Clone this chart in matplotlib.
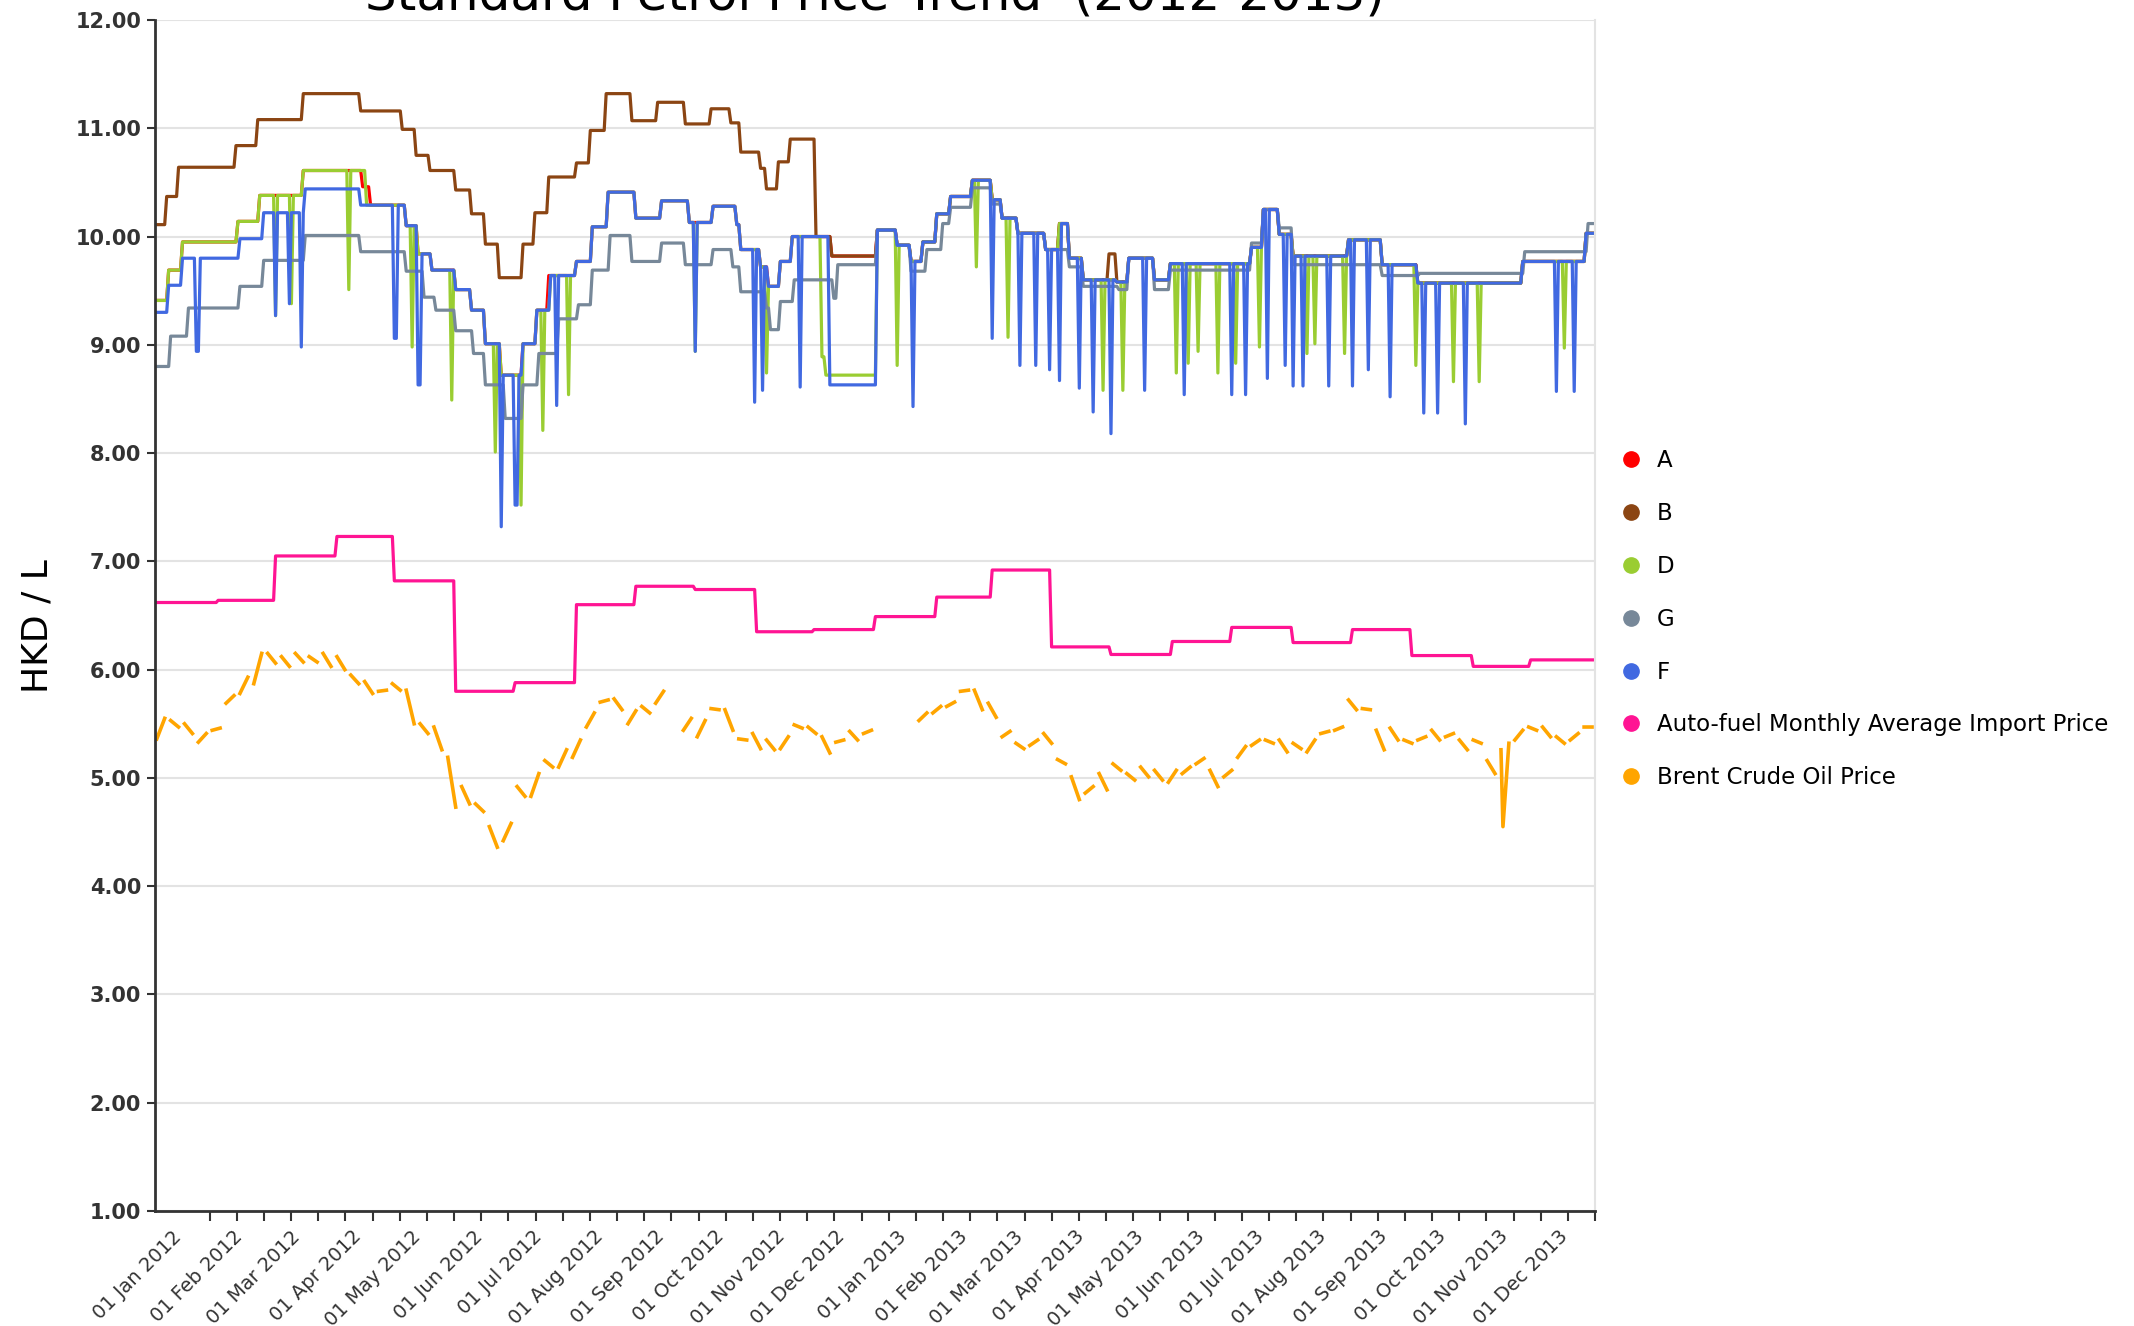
import numpy as np
import pandas as pd
import matplotlib
matplotlib.use('Agg')
import matplotlib.pyplot as plt
import matplotlib.dates as mdates
from matplotlib.ticker import FixedLocator
from matplotlib.lines import Line2D

# all days are counted from 01 Jan 2012
start = pd.Timestamp('2012-01-01')

# A: price change days / values
a_day = [-13, -7, 0, 28, 39, 61, 91, 95, 113, 119, 126, 138, 146, 153, 161, 172, 179, 185, 199, 207, 215, 229,
         242, 256, 268, 280, 282, 292, 296, 302, 308, 328, 351, 361, 368, 374, 381, 388, 399, 409, 414, 422,
         436, 443, 448, 455, 472, 478, 491, 499, 540, 546, 554, 561, 589, 606, 624, 677, 709]
a_val = [9.41, 9.69, 9.95, 10.14, 10.38, 10.61, 10.46, 10.29, 10.10, 9.84, 9.69, 9.51, 9.32, 9.01, 8.72, 9.01,
         9.32, 9.64, 9.77, 10.09, 10.41, 10.17, 10.33, 10.13, 10.28, 10.11, 9.88, 9.72, 9.54, 9.77, 10.00, 9.82,
         10.06, 9.92, 9.77, 9.95, 10.21, 10.37, 10.52, 10.34, 10.17, 10.03, 9.88, 10.12, 9.80, 9.60, 9.58, 9.80,
         9.60, 9.75, 9.90, 10.25, 10.02, 9.82, 9.97, 9.74, 9.57, 9.77, 10.03]

# B
b_day = [-13, -8, -2, 27, 38, 61, 90, 111, 118, 125, 138, 146, 153, 160, 172, 178, 185, 199, 206, 214, 227,
         240, 254, 267, 277, 282, 292, 295, 301, 307, 320, 328, 351, 361, 368, 374, 381, 388, 399, 409, 414,
         422, 436, 443, 448, 455, 468, 472, 478, 491, 499, 540, 546, 554, 561, 589, 606, 624, 677, 709]
b_val = [10.11, 10.37, 10.64, 10.84, 11.08, 11.32, 11.16, 10.99, 10.75, 10.61, 10.43, 10.21, 9.93, 9.62, 9.93,
         10.22, 10.55, 10.68, 10.98, 11.32, 11.07, 11.24, 11.04, 11.18, 11.05, 10.78, 10.63, 10.44, 10.69, 10.90,
         10.00, 9.82, 10.06, 9.92, 9.77, 9.95, 10.21, 10.37, 10.52, 10.34, 10.17, 10.03, 9.88, 10.12, 9.80, 9.60,
         9.84, 9.58, 9.80, 9.60, 9.75, 9.90, 10.25, 10.02, 9.82, 9.97, 9.74, 9.57, 9.77, 10.03]

# D
d_day = [-13, -7, 0, 28, 39, 61, 93, 113, 119, 126, 138, 146, 153, 161, 172, 179, 186, 199, 207, 215, 229,
         242, 256, 268, 280, 282, 292, 296, 302, 308, 323, 325, 351, 361, 368, 374, 381, 388, 399, 409, 414, 422,
         436, 443, 448, 455, 472, 478, 491, 499, 540, 546, 554, 561, 589, 606, 624, 677, 709]
d_val = [9.41, 9.69, 9.95, 10.14, 10.38, 10.61, 10.29, 10.10, 9.84, 9.69, 9.51, 9.32, 9.01, 8.72, 9.01, 9.32,
         9.64, 9.77, 10.09, 10.41, 10.17, 10.33, 10.13, 10.28, 10.11, 9.88, 9.72, 9.54, 9.77, 10.00, 8.89, 8.72,
         10.06, 9.92, 9.77, 9.95, 10.21, 10.37, 10.52, 10.34, 10.17, 10.03, 9.88, 10.12, 9.80, 9.60, 9.58, 9.80,
         9.60, 9.75, 9.90, 10.25, 10.02, 9.82, 9.97, 9.74, 9.57, 9.77, 10.03]
d_dip_day = [47, 55, 84, 116, 136, 158, 171, 182, 195, 259, 295, 361, 401, 417, 465, 475, 502, 508, 513, 523,
             532, 544, 568, 572, 587, 623, 642, 655, 698]
d_dip_val = [9.27, 9.38, 9.51, 8.98, 8.49, 8.01, 7.52, 8.21, 8.54, 8.94, 8.74, 8.81, 9.72, 9.07, 8.58, 8.58,
             8.74, 8.83, 8.94, 8.74, 8.83, 8.98, 8.92, 9.01, 8.92, 8.81, 8.66, 8.66, 8.97]

# G
g_day = [-13, -6, 3, 29, 41, 62, 90, 113, 122, 128, 138, 147, 153, 163, 172, 180, 190, 200, 207, 216, 227,
         242, 254, 268, 278, 282, 295, 297, 302, 309, 329, 331, 351, 361, 368, 376, 384, 388, 399, 409, 414, 422,
         436, 448, 455, 473, 478, 491, 499, 540, 546, 554, 561, 606, 625, 678, 710]
g_val = [8.80, 9.08, 9.34, 9.54, 9.78, 10.01, 9.86, 9.68, 9.44, 9.32, 9.13, 8.92, 8.63, 8.32, 8.63, 8.92, 9.24,
         9.37, 9.69, 10.01, 9.77, 9.94, 9.74, 9.88, 9.72, 9.49, 9.34, 9.14, 9.40, 9.60, 9.43, 9.74, 10.06, 9.92,
         9.68, 9.88, 10.12, 10.27, 10.45, 10.30, 10.17, 10.03, 9.88, 9.72, 9.54, 9.51, 9.80, 9.51, 9.69, 9.94,
         10.25, 10.08, 9.74, 9.64, 9.66, 9.86, 10.12]

# F
f_day = [-13, -7, 0, 29, 41, 62, 90, 113, 119, 126, 138, 146, 153, 161, 172, 179, 186, 199, 207, 215, 229,
         242, 256, 268, 280, 282, 292, 296, 302, 308, 327, 351, 361, 368, 374, 381, 388, 399, 409, 414, 422,
         436, 443, 448, 455, 472, 478, 491, 499, 540, 546, 554, 561, 589, 606, 624, 677, 709]
f_val = [9.30, 9.55, 9.80, 9.98, 10.22, 10.44, 10.29, 10.10, 9.84, 9.69, 9.51, 9.32, 9.01, 8.72, 9.01, 9.32,
         9.64, 9.77, 10.09, 10.41, 10.17, 10.33, 10.13, 10.28, 10.11, 9.88, 9.72, 9.54, 9.77, 10.00, 8.63, 10.06,
         9.92, 9.77, 9.95, 10.21, 10.37, 10.52, 10.34, 10.17, 10.03, 9.88, 10.12, 9.80, 9.60, 9.58, 9.80, 9.60,
         9.75, 9.90, 10.25, 10.02, 9.82, 9.97, 9.74, 9.57, 9.77, 10.03]
f_dip_day = [7, 8, 47, 54, 60, 107, 108, 119, 120, 161, 168, 169, 189, 259, 289, 293, 312, 369, 409, 423, 431,
             438, 443, 453, 460, 469, 486, 506, 530, 537, 548, 557, 561, 566, 579, 591, 599, 610, 627, 634, 648,
             694, 703]
f_dip_val = [8.94, 8.94, 9.27, 9.38, 8.98, 9.06, 9.06, 8.63, 8.63, 7.32, 7.52, 7.52, 8.44, 8.94, 8.47, 8.58,
             8.61, 8.43, 9.06, 8.81, 8.81, 8.77, 8.67, 8.60, 8.38, 8.18, 8.58, 8.54, 8.54, 8.54, 8.69, 8.81, 8.62,
             8.62, 8.62, 8.62, 8.77, 8.52, 8.37, 8.37, 8.27, 8.57, 8.57]

# Auto-fuel monthly average import price
imp_day = [-13, 18, 47, 78, 107, 138, 168, 199, 229, 259, 290, 319, 350, 381, 409, 439, 469, 500, 530, 561,
           591, 621, 652, 681]
imp_val = [6.62, 6.64, 7.05, 7.23, 6.82, 5.80, 5.88, 6.60, 6.77, 6.74, 6.35, 6.37, 6.49, 6.67, 6.92, 6.21,
           6.14, 6.26, 6.39, 6.25, 6.37, 6.13, 6.03, 6.09]

# Brent crude, one row per week starting Mon 19 Dec 2011: Monday and Friday values
brent_mon = [5.36, 5.53, 5.50, 5.33, 5.44, 5.69, 5.78, 5.87, 6.15, 6.12, 6.15, 6.12, 6.15, 6.12, 5.95, 5.89,
             5.80, 5.87, 5.81, 5.50, 5.47, 5.19, 4.92, 4.76, 4.55, 4.42, 4.92, 4.83, 5.16, 5.10, 5.19, 5.47,
             5.70, 5.73, 5.50, 5.66, 5.69, np.nan, 5.44, 5.38, 5.64, 5.63, 5.36, 5.41, 5.35, 5.27, 5.49, 5.47,
             5.38, 5.33, 5.43, 5.41, np.nan, np.nan, np.nan, 5.53, 5.60, 5.66, 5.80, 5.81, 5.69, 5.38, 5.32,
             5.30, 5.41, 5.17, 5.01, 4.86, 5.04, 5.13, 5.04, 5.10, 5.07, 4.96, 5.04, 5.13, 5.07, 5.01, 5.19,
             5.30, 5.35, 5.35, 5.32, 5.24, 5.41, 5.44, 5.72, 5.64, 5.44, 5.46, 5.35, 5.35, 5.44, 5.38, 5.35,
             5.35, 5.16, 5.26, 5.35, 5.47, 5.47, 5.38, 5.35, 5.47]
brent_fri = [5.55, 5.47, 5.41, 5.41, 5.46, 5.76, 5.93, 6.15, 6.06, 6.03, 6.07, 6.07, 6.03, 6.00, 5.87, 5.78,
             5.81, 5.81, 5.50, 5.41, 5.26, 4.73, 4.76, 4.69, 4.36, 4.58, 4.83, 5.04, 5.10, 5.26, 5.35, 5.60,
             5.72, 5.63, 5.62, 5.60, 5.80, np.nan, 5.55, 5.53, 5.63, 5.44, 5.35, 5.27, 5.26, 5.38, 5.46, 5.41,
             5.23, 5.35, 5.35, 5.44, np.nan, np.nan, np.nan, 5.60, 5.66, 5.70, 5.81, 5.63, 5.56, 5.43, 5.27,
             5.35, 5.32, 5.13, 4.80, 4.92, 4.89, 5.07, 4.98, 5.01, 4.98, 5.07, 5.10, 5.18, 4.92, 5.07, 5.29,
             5.35, 5.32, 5.24, 5.27, 5.35, 5.43, 5.47, 5.63, 5.63, 5.26, 5.35, 5.32, 5.38, 5.35, 5.41, 5.26,
             5.32, 5.04, 5.32, 5.44, 5.44, 5.38, 5.32, 5.41, 5.47]
brent_spike_day = 667
brent_spike_val = 4.55

labels = ['A', 'B', 'D', 'G', 'F', 'Auto-fuel Monthly Average Import Price', 'Brent Crude Oil Price']
colors = ['#FF0000', '#8B4513', '#9ACD32', '#778899', '#4169E1', '#FF1493', '#FFA500']

t0 = mdates.date2num(start.to_pydatetime())
days = np.arange(-13, 714)


def daily(chg_day, chg_val, dip_day=(), dip_val=()):
    idx = np.searchsorted(chg_day, days, side='right') - 1
    v = np.array(chg_val, dtype=float)[idx]
    for d, x in zip(dip_day, dip_val):
        v[days == d] = x
    return v


series = [daily(a_day, a_val), daily(b_day, b_val), daily(d_day, d_val, d_dip_day, d_dip_val),
          daily(g_day, g_val), daily(f_day, f_val, f_dip_day, f_dip_val), daily(imp_day, imp_val)]

fig = plt.figure(figsize=(21.34, 13.26), dpi=100)
ax = fig.add_axes([155 / 2134, 1 - 1211 / 1326, 1440 / 2134, 1191 / 1326])

for v, c in zip(series, colors[:6]):
    ax.plot(t0 + days, v, color=c, lw=2.3, solid_joinstyle='round')

# brent: Monday-Friday segments, broken over the weekends
bx, by = [], []
mondays = -13 + 7 * np.arange(len(brent_mon))
for m, v1, v2 in zip(mondays, brent_mon, brent_fri):
    pts = [(m, v1), (m + 4, v2)]
    if m <= brent_spike_day <= m + 4:
        pts = sorted(pts + [(brent_spike_day, brent_spike_val)])
    bx += [p[0] for p in pts] + [m + 5]
    by += [p[1] for p in pts] + [np.nan]
ax.plot(t0 + np.array(bx), by, color=colors[6], lw=2.6)

x_end = t0 + 713.5
ax.set_xlim(t0 - 13.9, x_end)
ax.set_ylim(1, 12)
ax.set_yticks(np.arange(1, 13))
ax.set_yticklabels(['%.2f' % y for y in range(1, 13)], fontsize=15, fontweight='bold', color='#333333')
ax.yaxis.grid(True, color='#e3e3e3', lw=1.5)
ax.set_axisbelow(True)

months = pd.date_range('2012-01-01', '2013-12-01', freq='MS')
ax.xaxis.set_major_locator(FixedLocator(mdates.date2num(months.to_pydatetime())))
ax.xaxis.set_major_formatter(mdates.DateFormatter('%d %b %Y'))
ax.xaxis.set_minor_locator(FixedLocator(np.linspace(t0, x_end, 53)))
ax.tick_params(axis='x', which='major', length=0, pad=19, labelsize=14, labelcolor='#333333')
ax.tick_params(axis='x', which='minor', length=7, width=1.5, color='#333333')
ax.tick_params(axis='y', length=6, width=1.5, color='#333333', pad=4)
for lbl in ax.get_xticklabels():
    lbl.set_rotation(45)
    lbl.set_ha('right')
    lbl.set_va('baseline')
    lbl.set_rotation_mode('anchor')

for s in ['left', 'bottom']:
    ax.spines[s].set_color('#333333')
    ax.spines[s].set_linewidth(2)
ax.spines['right'].set_color('#e3e3e3')
ax.spines['right'].set_linewidth(1.5)
ax.spines['top'].set_visible(False)

ax.set_ylabel('HKD / L', fontsize=26)
ax.yaxis.set_label_coords(-0.070, 0.491)

fig.text(0.41, 0.993, 'Standard Petrol Price Trend  (2012-2013)', fontsize=36, ha='center', va='baseline')

handles = [Line2D([], [], marker='o', ls='', color=c, markersize=11) for c in colors]
fig.legend(handles, labels, loc='center left', bbox_to_anchor=(0.7547, 0.533), frameon=False,
           fontsize=16.5, handlelength=0.8, handletextpad=0.72, labelspacing=1.3, borderpad=0)

fig.savefig('out.png', dpi=100)
